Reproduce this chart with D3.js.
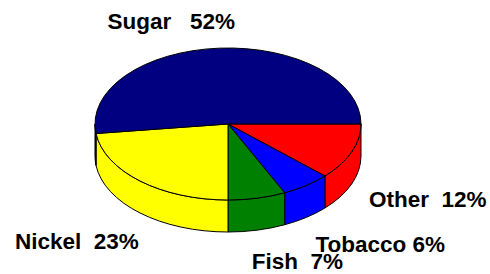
<!DOCTYPE html>
<html>
<head>
<meta charset="utf-8">
<script src="https://cdn.jsdelivr.net/npm/d3@7"></script>
<style>
  html, body { margin: 0; padding: 0; background: #fff; }
  svg { display: block; }
</style>
</head>
<body>
<svg id="chart" width="490" height="274"></svg>
<script>
// ---- data ----
const categories = ["Other", "Tobacco", "Fish", "Nickel", "Sugar"];
const values = [12, 6, 7, 23, 52];
const colors = ["#ff0000", "#0000ff", "#008000", "#ffff00", "#000080"];
// label spacing (number of spaces between name and percent)
const labelGaps = [2, 1, 2, 2, 3];

// ---- layout ----
const W = 490, H = 274;
const cx = 228, cy = 124, rx = 133, ry = 76, depth = 32;
const labelLayout = [
  { x: 369, y: 207 },
  { x: 315.5, y: 252 },
  { x: 251.7, y: 269 },
  { x: 15, y: 249 },
  { x: 107.4, y: 29 }
];

const svg = d3.select("#chart");

const pie = d3.pie()
  .sort(null)
  .value(d => d.value)
  .startAngle(Math.PI / 2)
  .endAngle(Math.PI / 2 + 2 * Math.PI);

const data = categories.map((c, i) => ({ name: c, value: values[i], color: colors[i], gap: labelGaps[i], layout: labelLayout[i] }));
const arcs = pie(data);

function pt(a, dy = 0) {
  return [cx + rx * Math.sin(a), cy - ry * Math.cos(a) + dy];
}

function topPath(d) {
  const a0 = d.startAngle, a1 = d.endAngle;
  const p0 = pt(a0), p1 = pt(a1);
  const large = (a1 - a0) > Math.PI ? 1 : 0;
  return `M${cx},${cy}L${p0[0]},${p0[1]}A${rx},${ry} 0 ${large} 1 ${p1[0]},${p1[1]}Z`;
}

function sidePath(d) {
  const lo = Math.PI / 2, hi = 3 * Math.PI / 2;
  const s = Math.max(d.startAngle, lo), e = Math.min(d.endAngle, hi);
  if (e <= s) return null;
  const p0 = pt(s), p1 = pt(e), q1 = pt(e, depth), q0 = pt(s, depth);
  return `M${p0[0]},${p0[1]}A${rx},${ry} 0 0 1 ${p1[0]},${p1[1]}` +
         `L${q1[0]},${q1[1]}A${rx},${ry} 0 0 0 ${q0[0]},${q0[1]}Z`;
}

// sides
svg.append("g").selectAll("path")
  .data(arcs.filter(d => sidePath(d) !== null))
  .join("path")
  .attr("d", sidePath)
  .attr("fill", d => d.data.color)
  .attr("stroke", "#000")
  .attr("stroke-width", 1);

// tops
svg.append("g").selectAll("path")
  .data(arcs)
  .join("path")
  .attr("d", topPath)
  .attr("fill", d => d.data.color)
  .attr("stroke", "#000")
  .attr("stroke-width", 1)
  .attr("stroke-linejoin", "round");

// labels
svg.append("g").selectAll("text")
  .data(arcs)
  .join("text")
  .attr("xml:space", "preserve")
  .style("white-space", "pre")
  .attr("x", d => d.data.layout.x)
  .attr("y", d => d.data.layout.y)
  .attr("font-family", "'Liberation Sans', Arial, sans-serif")
  .attr("font-weight", "bold")
  .attr("font-size", 22.5)
  .attr("fill", "#000")
  .text(d => d.data.name + " ".repeat(d.data.gap) + d.data.value + "%");
</script>
</body>
</html>
